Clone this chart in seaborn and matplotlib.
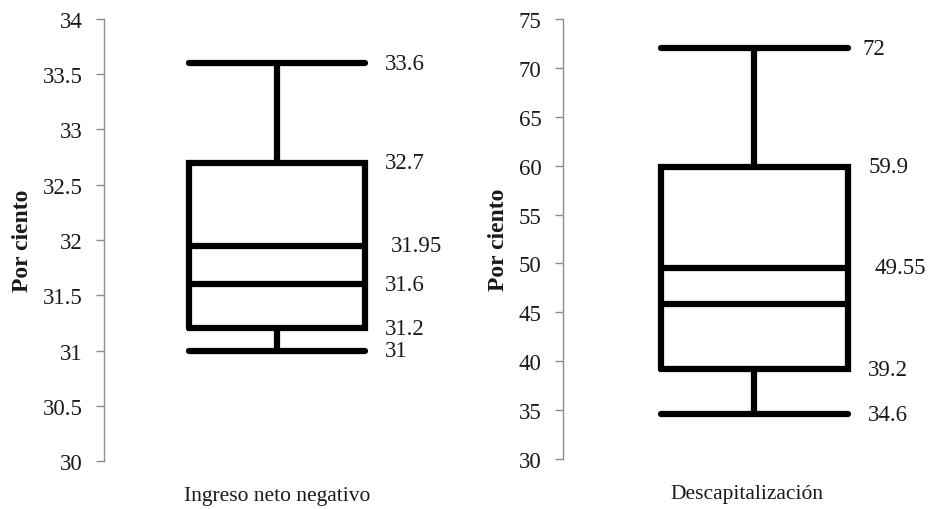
import matplotlib
matplotlib.use("Agg")
import matplotlib.pyplot as plt
import seaborn as sns
from matplotlib.ticker import FuncFormatter, MultipleLocator

# Datos: mín, Q1, mediana, Q3, máx de cada caja + la línea interior adicional
ingreso_box = [31, 31.2, 31.6, 32.7, 33.6]
ingreso_extra = 31.95
descap_box = [34.6, 39.2, 45.85, 59.9, 72]
descap_extra = 49.55

# Etiquetas de valores a la derecha de cada caja
ingreso_lab_vals = [33.6, 32.7, 31.95, 31.6, 31.2, 31]
ingreso_lab_txt = ['33.6', '32.7', '31.95', '31.6', '31.2', '31']
descap_lab_vals = [72, 59.9, 49.55, 39.2, 34.6]
descap_lab_txt = ['72', '59.9', '49.55', '39.2', '34.6']

sns.set_style('white')
plt.rcParams['font.family'] = ['Liberation Serif', 'DejaVu Serif']

fig = plt.figure(figsize=(9.31, 5.10), dpi=100)
BOX_W = 0.51
LW = 4.5
GRIS = '#8c8c8c'


def panel(ax, valores, extra, lab_vals, lab_txt, offsets, xlabel, ylim, step, xlim):
    sns.boxplot(y=valores, ax=ax, whis=(0, 100), width=BOX_W, fill=False,
                color='black', linecolor='black', linewidth=LW,
                capwidths=BOX_W,
                capprops=dict(solid_capstyle='round', color='black'),
                whiskerprops=dict(color='black'),
                medianprops=dict(color='black'),
                boxprops=dict(solid_joinstyle='miter'))
    ax.hlines(extra, -BOX_W / 2, BOX_W / 2, color='black', lw=LW)
    for v, t, dx in zip(lab_vals, lab_txt, offsets):
        ax.annotate(t, xy=(BOX_W / 2, v), xytext=(dx, 0), textcoords='offset points',
                    va='center', ha='left', fontsize=16.5, color='#1a1a1a')
    ax.set_ylim(*ylim)
    ax.set_xlim(*xlim)
    ax.yaxis.set_major_locator(MultipleLocator(step))
    ax.yaxis.set_major_formatter(FuncFormatter(lambda y, p: f'{y:g}'))
    ax.set_xticks([])
    ax.set_xlabel(xlabel, fontsize=15.5, labelpad=18, color='#1a1a1a')
    ax.set_ylabel('Por ciento', fontsize=17, fontweight='bold', labelpad=7, color='#1a1a1a')
    for s in ['top', 'right', 'bottom']:
        ax.spines[s].set_visible(False)
    ax.spines['left'].set_color(GRIS)
    ax.spines['left'].set_linewidth(1.0)
    ax.tick_params(axis='y', left=True, length=5.5, width=1.0, color=GRIS,
                   direction='out', pad=10, labelsize=16.5, labelcolor='#1a1a1a')
    ax.patch.set_alpha(0)


ax1 = fig.add_axes([104 / 931, 0.0941, 346 / 931, 0.8667])
panel(ax1, ingreso_box, ingreso_extra, ingreso_lab_vals, ingreso_lab_txt,
      [14, 14, 18.5, 14, 14, 14], 'Ingreso neto negativo', (30, 34), 0.5, (-0.5, 0.5))

ax2 = fig.add_axes([563 / 931, 0.0980, 368 / 931, 0.8628])
panel(ax2, descap_box, descap_extra, descap_lab_vals, descap_lab_txt,
      [10, 14.5, 19, 14.5, 14.5], 'Descapitalización', (30, 75), 5, (-0.52, 0.48))

fig.savefig('out.png', dpi=100)
